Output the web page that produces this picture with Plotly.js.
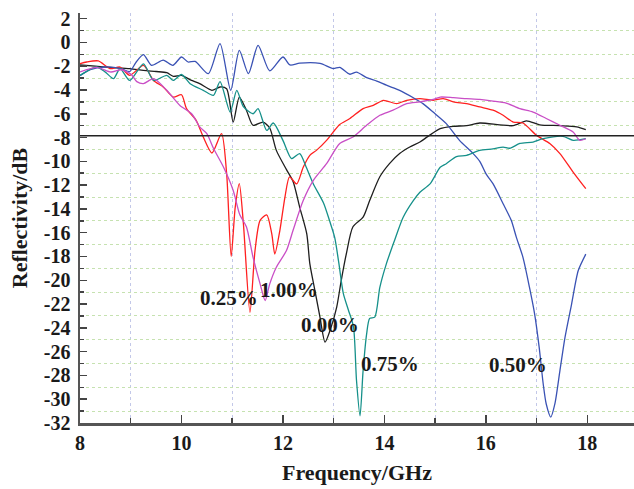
<!DOCTYPE html>
<html>
<head>
<meta charset="utf-8">
<script src="https://cdn.plot.ly/plotly-3.0.1.min.js"></script>
<style>
  html, body { margin: 0; padding: 0; background: #fff; }
  #chart { width: 634px; height: 489px; }
</style>
</head>
<body>
<div id="chart"></div>
<script>
// ---- Data ----
const freq000 = [8.0, 8.3, 8.6, 8.98, 9.25, 9.5, 9.71, 9.84, 10.0, 10.2, 10.36, 10.6, 10.76, 10.89, 11.02, 11.14, 11.28, 11.41, 11.61, 11.74, 11.87, 12.07, 12.2, 12.33, 12.47, 12.53, 12.63, 12.73, 12.83, 12.93, 13.06, 13.15, 13.25, 13.38, 13.58, 13.71, 13.91, 14.1, 14.3, 14.5, 14.7, 14.86, 15.1, 15.36, 15.62, 15.88, 16.27, 16.54, 16.8, 17.06, 17.46, 17.79, 17.97];
const refl000 = [-1.9, -2.0, -2.1, -2.2, -2.35, -2.45, -2.55, -2.85, -2.77, -3.2, -3.47, -4.03, -3.75, -3.9, -6.7, -4.6, -5.7, -6.97, -6.7, -7.2, -9.08, -10.7, -11.7, -13.85, -16.1, -18.6, -20.85, -23.1, -25.2, -24.2, -22.25, -20.0, -17.77, -15.5, -14.7, -13.3, -11.3, -10.2, -9.35, -8.8, -8.38, -7.9, -7.25, -7.06, -7.0, -6.78, -6.93, -7.0, -6.6, -6.93, -7.0, -7.1, -7.34];

const freq025 = [8.0, 8.13, 8.36, 8.59, 8.79, 8.98, 9.25, 9.45, 9.64, 9.84, 10.0, 10.1, 10.29, 10.43, 10.6, 10.79, 10.89, 10.98, 11.06, 11.14, 11.22, 11.35, 11.45, 11.55, 11.68, 11.78, 11.84, 11.94, 12.04, 12.13, 12.27, 12.4, 12.53, 12.66, 12.86, 12.99, 13.12, 13.32, 13.58, 13.78, 13.98, 14.24, 14.44, 14.7, 14.96, 15.16, 15.36, 15.62, 15.88, 16.14, 16.34, 16.54, 16.73, 17.0, 17.26, 17.46, 17.72, 17.97];
const refl025 = [-1.79, -1.65, -1.56, -2.2, -2.07, -2.77, -1.93, -3.2, -3.75, -4.6, -4.4, -5.57, -6.55, -7.96, -9.3, -7.67, -11.0, -18.0, -13.85, -11.88, -15.2, -22.7, -17.5, -14.96, -14.5, -16.1, -17.8, -15.8, -13.0, -11.3, -11.9, -10.5, -9.5, -9.08, -8.24, -7.54, -6.9, -6.4, -5.57, -5.3, -4.87, -5.15, -4.87, -4.73, -4.87, -4.73, -5.0, -5.15, -5.43, -5.7, -6.13, -6.7, -6.78, -7.82, -8.5, -9.35, -10.9, -12.3];

const freq050 = [8.0, 8.2, 8.49, 8.81, 8.98, 9.1, 9.25, 9.41, 9.64, 9.83, 10.0, 10.13, 10.27, 10.53, 10.76, 10.97, 11.14, 11.32, 11.51, 11.74, 12.0, 12.14, 12.33, 12.73, 12.99, 13.12, 13.32, 13.45, 13.65, 13.85, 14.04, 14.3, 14.57, 14.76, 14.96, 15.22, 15.48, 15.75, 15.88, 16.01, 16.14, 16.34, 16.5, 16.6, 16.73, 16.86, 16.96, 17.05, 17.13, 17.19, 17.28, 17.36, 17.46, 17.56, 17.69, 17.82, 17.97];
const refl050 = [-2.8, -2.3, -2.07, -2.2, -2.45, -1.7, -1.03, -1.93, -1.5, -1.93, -1.23, -1.65, -1.6, -2.63, -0.1, -4.03, -0.67, -2.63, -0.25, -2.4, -1.23, -1.9, -1.75, -1.77, -2.2, -2.1, -2.68, -2.5, -2.96, -3.25, -3.6, -4.03, -4.65, -5.15, -5.86, -6.83, -8.24, -9.35, -10.0, -11.1, -11.88, -13.56, -14.96, -16.37, -18.05, -20.6, -22.8, -25.6, -28.7, -30.4, -31.5, -30.4, -27.6, -24.8, -22.0, -19.2, -17.8];

const freq075 = [8.0, 8.33, 8.5, 8.66, 8.79, 8.98, 9.25, 9.45, 9.71, 9.84, 10.0, 10.17, 10.43, 10.63, 10.76, 10.96, 11.09, 11.22, 11.41, 11.51, 11.68, 11.81, 12.0, 12.17, 12.33, 12.46, 12.6, 12.8, 12.92, 13.02, 13.1, 13.19, 13.29, 13.39, 13.45, 13.52, 13.58, 13.65, 13.71, 13.81, 13.91, 14.04, 14.2, 14.37, 14.57, 14.7, 14.9, 15.1, 15.22, 15.42, 15.62, 15.88, 16.14, 16.34, 16.47, 16.67, 16.93, 17.13, 17.52, 17.72, 17.97];
const refl075 = [-2.77, -2.07, -2.5, -3.05, -2.2, -3.2, -1.8, -3.2, -2.77, -3.2, -2.7, -3.47, -4.03, -4.45, -3.3, -5.86, -4.03, -5.4, -6.0, -5.57, -7.4, -6.78, -8.24, -9.78, -9.35, -10.5, -11.9, -13.5, -15.0, -16.4, -18.5, -21.1, -22.5, -23.9, -28.4, -31.4, -27.6, -24.5, -23.2, -23.1, -20.6, -18.6, -16.65, -14.7, -13.3, -12.6, -11.9, -10.5, -10.2, -9.6, -9.5, -9.08, -8.95, -8.8, -8.9, -8.5, -8.38, -8.1, -7.9, -8.24, -8.1];

const freq100 = [8.0, 8.33, 8.61, 8.81, 9.01, 9.12, 9.25, 9.45, 9.71, 9.97, 10.2, 10.36, 10.5, 10.63, 10.83, 11.02, 11.15, 11.28, 11.41, 11.55, 11.65, 11.74, 11.87, 12.07, 12.2, 12.4, 12.6, 12.86, 13.12, 13.38, 13.65, 13.91, 14.17, 14.44, 14.7, 14.96, 15.1, 15.36, 15.62, 15.88, 16.14, 16.4, 16.67, 16.93, 17.19, 17.46, 17.72, 17.85, 17.97];
const refl100 = [-2.49, -2.1, -2.49, -2.3, -2.7, -3.3, -3.47, -3.05, -4.03, -5.3, -6.0, -7.1, -7.67, -8.9, -10.5, -12.45, -14.5, -15.5, -18.05, -20.3, -21.7, -20.3, -18.9, -17.5, -15.8, -13.3, -11.6, -10.2, -8.5, -7.96, -6.97, -6.13, -5.7, -5.15, -5.0, -4.8, -4.6, -4.65, -4.73, -4.8, -4.93, -5.1, -5.57, -5.86, -6.4, -6.97, -7.54, -8.24, -8.1];

const thresholdX = [8, 19];
const thresholdY = [-7.85, -7.85];

const seriesNames = ['0.00%', '0.25%', '0.50%', '0.75%', '1.00%'];
const labelX = [12.93, 10.94, 16.64, 14.12, 12.12];
const labelY = [-23.8, -21.5, -27.1, -27.0, -20.85];

const yTickVals = [2, 0, -2, -4, -6, -8, -10, -12, -14, -16, -18, -20, -22, -24, -26, -28, -30, -32];
const yTickText = ['2', '0', '-2', '-4', '-6', '-8', '-10', '-12', '-14', '-16', '-18', '-20', '-22', '-24', '-26', '-28', '-30', '-32'];
const xTickVals = [8, 10, 12, 14, 16, 18];
const xTickText = ['8', '10', '12', '14', '16', '18'];

// ---- Styles ----
const colors = ['#1e1e1e', '#ff2020', '#3a52b4', '#15908a', '#c94fc6'];
const serif = 'Liberation Serif, Times New Roman, serif';

const xs = [freq000, freq025, freq050, freq075, freq100];
const ys = [refl000, refl025, refl050, refl075, refl100];

const traces = xs.map((x, i) => ({
  x: x, y: ys[i], type: 'scatter', mode: 'lines', name: seriesNames[i],
  line: { color: colors[i], width: 1.3, shape: 'spline', smoothing: 0.7 },
  hoverinfo: 'skip'
}));
traces.push({
  x: thresholdX, y: thresholdY, type: 'scatter', mode: 'lines',
  line: { color: '#222', width: 1.4 }, hoverinfo: 'skip'
});

const annotations = seriesNames.map((t, i) => ({
  x: labelX[i], y: labelY[i], xref: 'x', yref: 'y', text: t, showarrow: false,
  font: { family: serif, size: 21, weight: 700, color: '#1a1a1a' }
}));

const layout = {
  width: 634, height: 489,
  margin: { l: 80, r: 0, t: 13, b: 66 },
  paper_bgcolor: '#fff', plot_bgcolor: '#fff',
  showlegend: false,
  xaxis: {
    range: [8, 18.92], tickmode: 'array', tickvals: xTickVals, ticktext: xTickText,
    ticks: 'inside', ticklen: 8, tickwidth: 1.5, tickcolor: '#444',
    showline: true, linecolor: '#555', linewidth: 2.5, showgrid: false, zeroline: false,
    tickfont: { family: serif, size: 20, weight: 700, color: '#1a1a1a' },
    minor: { dtick: 2, tick0: 9, ticks: 'inside', ticklen: 5, tickcolor: '#444', showgrid: true, gridcolor: '#c3c8e8', griddash: 'dot', gridwidth: 1 },
    title: { text: 'Frequency/GHz', standoff: 12, font: { family: serif, size: 22, weight: 700, color: '#1a1a1a' } }
  },
  yaxis: {
    range: [-32, 2.47], tickmode: 'array', tickvals: yTickVals, ticktext: yTickText,
    ticks: 'inside', ticklen: 7, tickwidth: 1.5, tickcolor: '#444',
    showline: true, linecolor: '#555', linewidth: 2.5, showgrid: false, zeroline: false,
    ticklabelstandoff: 3,
    tickfont: { family: serif, size: 20, weight: 700, color: '#1a1a1a' },
    minor: { dtick: 2, tick0: 1, ticks: 'inside', ticklen: 4, tickcolor: '#444', showgrid: true, gridcolor: '#c6e2b0', griddash: 'dot', gridwidth: 1 },
    title: { text: 'Reflectivity/dB', standoff: 10, font: { family: serif, size: 22, weight: 700, color: '#1a1a1a' } }
  },
  annotations: annotations
};

Plotly.newPlot('chart', traces, layout, { staticPlot: true, displayModeBar: false });
</script>
</body>
</html>
